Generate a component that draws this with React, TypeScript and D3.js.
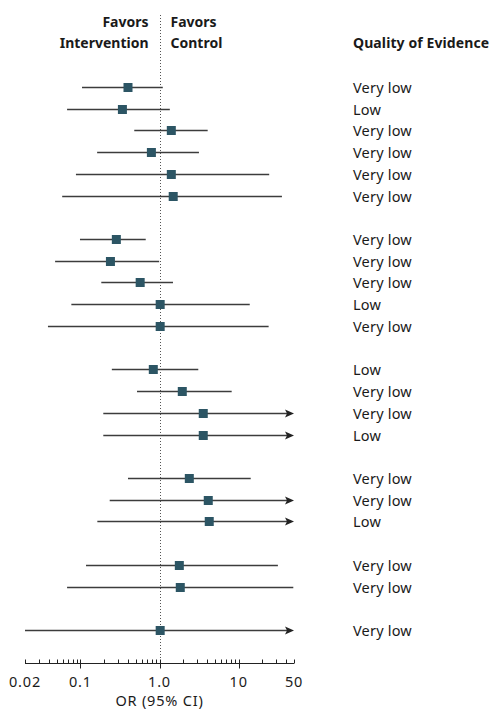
import * as d3 from "d3";

// one entry per row, top to bottom; group index separates the blocks
const groups = [0, 0, 0, 0, 0, 0, 1, 1, 1, 1, 1, 2, 2, 2, 2, 3, 3, 3, 4, 4, 5];
const oddsRatio = [0.4, 0.34, 1.41, 0.79, 1.41, 1.49, 0.285, 0.24, 0.57, 1.02, 1.02, 0.835, 1.94, 3.57, 3.57, 2.38, 4.13, 4.25, 1.78, 1.83, 1.02];
const lower = [0.105, 0.068, 0.48, 0.163, 0.088, 0.059, 0.099, 0.048, 0.184, 0.077, 0.039, 0.25, 0.52, 0.195, 0.195, 0.4, 0.235, 0.164, 0.118, 0.068, 0.02];
// null = upper limit beyond the axis (drawn as an arrow)
const upper = [1.1, 1.35, 4.06, 3.15, 24.3, 35.2, 0.67, 0.99, 1.48, 13.8, 23.9, 3.09, 8.16, null, null, 14.2, null, null, 31.3, 49, null];
const quality = [
  "Very low", "Low", "Very low", "Very low", "Very low", "Very low",
  "Very low", "Very low", "Very low", "Low", "Very low",
  "Low", "Very low", "Very low", "Low",
  "Very low", "Very low", "Low",
  "Very low", "Very low",
  "Very low",
];
const tickValues = [0.02, 0.1, 1, 10, 50];
const tickLabels = ["0.02", "0.1", "1.0", "10", "50"];
const minorTicks = [0.03, 0.04, 0.05, 0.06, 0.07, 0.08, 0.09, 0.2, 0.3, 0.4, 0.5, 0.6, 0.7, 0.8, 0.9, 2, 3, 4, 5, 6, 7, 8, 9, 20, 30, 40];

const font = "'Noto Sans', 'Open Sans', sans-serif";
const boxColor = "#2c5564";
const lineColor = "#3c3c3c";
const textColor = "#1a1a1a";

export default function App() {
  const width = 499;
  const height = 713;

  const x = d3.scaleLog().domain([0.02, 50]).range([25, 294]);

  // slot index: each row gets one slot, plus one empty slot between groups
  const slots = groups.map((g, i) => i + g);
  const y = d3.scaleLinear().domain([0, d3.max(slots) ?? 0]).range([87, 630]);

  const axisY = 663.5;
  const [dMin, dMax] = x.domain();

  return (
    <svg
      width={width}
      height={height}
      style={{ position: "absolute", left: 0, top: 0, fontFamily: font }}
    >
      <rect width={width} height={height} fill="#fff" />

      {/* headers */}
      <g fontWeight="bold" fontSize={14} fill={textColor}>
        <text x={x(1) - 11} y={27} textAnchor="end">Favors</text>
        <text x={x(1) - 11} y={48} textAnchor="end">Intervention</text>
        <text x={x(1) + 11} y={27}>Favors</text>
        <text x={x(1) + 11} y={48}>Control</text>
        <text x={353} y={48} letterSpacing={0.1}>Quality of Evidence</text>
      </g>

      {/* null line */}
      <line
        x1={Math.round(x(1)) + 0.5}
        x2={Math.round(x(1)) + 0.5}
        y1={15}
        y2={axisY - 3}
        stroke="#555"
        strokeWidth={1}
        strokeDasharray="1,2"
      />

      {/* rows */}
      {oddsRatio.map((or, i) => {
        const cy = Math.round(y(slots[i])) + 0.5;
        const hi = upper[i];
        const arrow = hi === null;
        const x1 = x(Math.max(lower[i], dMin));
        const x2 = arrow ? x(dMax) : x(Math.min(hi as number, dMax));
        return (
          <g key={i}>
            <line x1={x1} x2={arrow ? x2 - 6 : x2} y1={cy} y2={cy} stroke={lineColor} strokeWidth={1.3} />
            {arrow && (
              <path d={`M${x2},${cy} L${x2 - 9},${cy - 4} L${x2 - 7},${cy} L${x2 - 9},${cy + 4} Z`} fill="#222" />
            )}
            <rect x={x(or) - 4.5} y={cy - 4.5} width={9} height={9} fill={boxColor} />
            <text x={353} y={cy} dy="0.36em" fontSize={14.5} letterSpacing={0.2} fill={textColor}>
              {quality[i]}
            </text>
          </g>
        );
      })}

      {/* axis */}
      <g stroke="#222" strokeWidth={1}>
        <line x1={x(dMin)} x2={x(dMax)} y1={axisY} y2={axisY} />
        {minorTicks.concat([dMin, dMax]).map((t) => (
          <line key={"m" + t} x1={Math.round(x(t)) + 0.5} x2={Math.round(x(t)) + 0.5} y1={axisY - 4} y2={axisY} />
        ))}
        {tickValues
          .filter((t) => t !== dMin && t !== dMax)
          .map((t) => (
            <line key={"M" + t} x1={Math.round(x(t)) + 0.5} x2={Math.round(x(t)) + 0.5} y1={axisY - 4} y2={axisY + 5} />
          ))}
      </g>
      <g fontSize={14.5} fill={textColor} textAnchor="middle" letterSpacing={0.8}>
        {tickValues.map((t, i) => (
          <text key={t} x={x(t)} y={687}>
            {tickLabels[i]}
          </text>
        ))}
        <text x={x(1)} y={706}>OR (95% CI)</text>
      </g>
    </svg>
  );
}
